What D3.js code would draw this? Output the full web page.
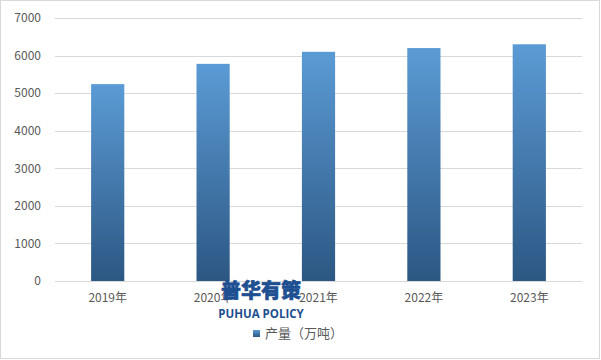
<!DOCTYPE html>
<html><head><meta charset="utf-8">
<script src="https://cdn.jsdelivr.net/npm/d3@7/dist/d3.min.js"></script>
<style>html,body{margin:0;padding:0;background:#fff;}svg{display:block;}</style>
</head><body><div id="chart"></div>
<script>
const categories = ["2019年","2020年","2021年","2022年","2023年"];
const values = [5240, 5780, 6100, 6200, 6300];
const yTicks = [0,1000,2000,3000,4000,5000,6000,7000];
const seriesName = "产量（万吨）";

(function(){
const W = 601, H = 360;
const svg = d3.select("#chart").append("svg").attr("width", W).attr("height", H);
const font = "'Microsoft YaHei','Noto Sans CJK SC','DejaVu Sans',sans-serif";

svg.append("rect").attr("x",0.5).attr("y",0.5).attr("width",W-2).attr("height",H-2)
  .attr("fill","#fff").attr("stroke","#d9d9d9");

const defs = svg.append("defs");
const grad = defs.append("linearGradient").attr("id","barGrad").attr("x1",0).attr("y1",0).attr("x2",0).attr("y2",1);
grad.append("stop").attr("offset","0%").attr("stop-color","#5b9bd5");
grad.append("stop").attr("offset","100%").attr("stop-color","#2c5783");

const mL = 55, mR = 582, mT = 18, mB = 281;
const x = d3.scaleBand().domain(categories).range([mL, mR]).padding(0);
const y = d3.scaleLinear().domain([0, 7000]).range([mB, mT]);

svg.append("g").selectAll("line").data(yTicks.filter(d=>d>0)).join("line")
  .attr("x1", mL).attr("x2", mR)
  .attr("y1", d=>Math.round(y(d))+0.5).attr("y2", d=>Math.round(y(d))+0.5)
  .attr("stroke","#d9d9d9").attr("stroke-width",1);

const yAxis = d3.axisLeft(y).tickValues(yTicks).tickFormat(d3.format("d")).tickSize(0).tickPadding(14);
const gy = svg.append("g").attr("transform",`translate(${mL},0)`).call(yAxis);
gy.select(".domain").remove();
gy.selectAll("text").attr("font-family",font).attr("font-size",12).attr("fill","#595959");

const bw = x.bandwidth()*0.315;
svg.append("g").selectAll("rect").data(values).join("rect")
  .attr("x",(d,i)=>x(categories[i]) + x.bandwidth()/2 - bw/2)
  .attr("width",bw)
  .attr("y",d=>y(d))
  .attr("height",d=>y(0)-y(d))
  .attr("fill","url(#barGrad)");

const xAxis = d3.axisBottom(x).tickSize(0).tickPadding(12);
const gx = svg.append("g").attr("transform",`translate(0,${mB})`).call(xAxis);
gx.select(".domain").attr("stroke","#d9d9d9").attr("d",`M${mL},0.5H${mR}`);
gx.selectAll("text").attr("font-family",font).attr("font-size",12).attr("fill","#595959");

svg.append("text").attr("x",261).attr("y",298).attr("text-anchor","middle")
  .attr("font-family","'Noto Sans CJK SC',sans-serif").attr("font-weight",900)
  .attr("font-size",20).attr("fill","#1d4f91")
  .attr("stroke","#1d4f91").attr("stroke-width",0.6)
  .text("普华有策");
svg.append("text").attr("x",261).attr("y",318).attr("text-anchor","middle")
  .attr("font-family","'Open Sans','DejaVu Sans',sans-serif").attr("font-weight",700)
  .attr("font-size",11.5).attr("fill","#1d4f91")
  .text("PUHUA POLICY");

const lg = svg.append("g").attr("transform","translate(253,330)");
lg.append("rect").attr("x",0).attr("y",0).attr("width",7).attr("height",7).attr("fill","url(#barGrad)");
lg.append("text").attr("x",12).attr("y",8).attr("font-family",font).attr("font-size",13)
  .attr("fill","#595959").text(seriesName);
})();
</script></body></html>
